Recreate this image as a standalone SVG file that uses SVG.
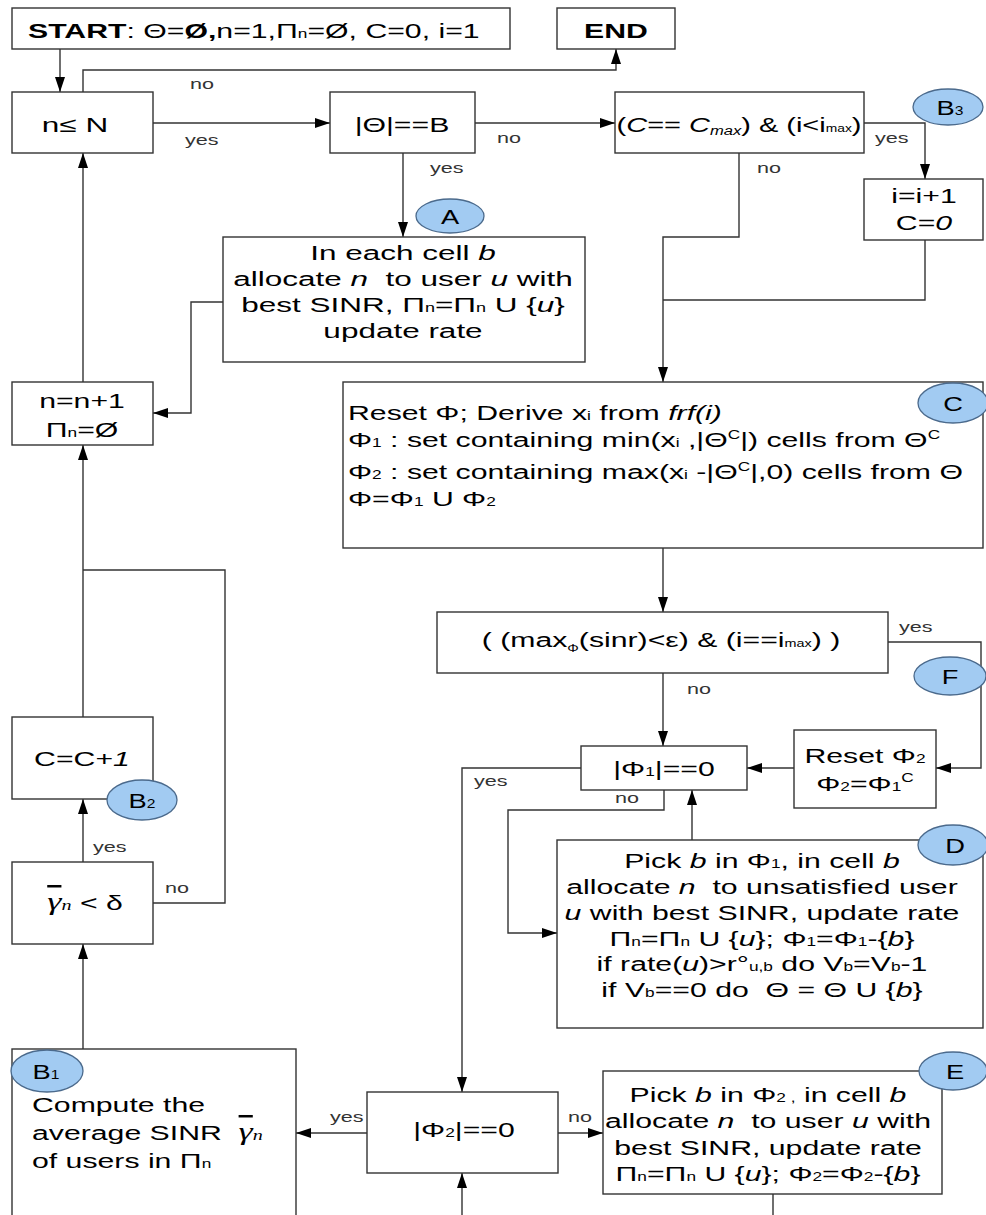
<svg xmlns="http://www.w3.org/2000/svg" width="986" height="1215" viewBox="0 0 986 1215">
<style>
.bx{fill:#fff;stroke:#333;stroke-width:1.4}
.el{fill:#a2cbf2;stroke:#4b6a8c;stroke-width:1.3}
.ln{fill:none;stroke:#333;stroke-width:1.4;marker-end:url(#ah)}
.ln2{fill:none;stroke:#333;stroke-width:1.4}
text{font-family:"Liberation Sans",Arial,Helvetica,sans-serif;fill:#000;font-size:21px}
.c{text-anchor:middle}
.lb{font-size:15px;fill:#333}
.i{font-style:italic}
.b{font-weight:bold}
.s{font-size:12px}
.ss{font-size:10px}
.g{font-family:"Liberation Serif","Times New Roman",serif;font-style:italic;font-size:25px;text-decoration:overline}
.gs{font-family:"Liberation Serif","Times New Roman",serif;font-style:italic;font-size:14px}
</style>
<defs>
<marker id="ah" markerUnits="userSpaceOnUse" markerWidth="16" markerHeight="11" refX="15" refY="5.5" orient="auto" viewBox="0 0 16 11"><path d="M0,0.5 L15,5.5 L0,10.5 z" fill="#000"/></marker>
</defs>
<rect width="986" height="1215" fill="#fff"/>

<g id="connectors">
<path class="ln" d="M60,49 V92"/>
<path class="ln" d="M83,92 V70 H616 V49"/>
<path class="ln" d="M153,123 H330"/>
<path class="ln" d="M475,123 H615"/>
<path class="ln" d="M864,123 H925 V179"/>
<path class="ln" d="M403,153 V237"/>
<path class="ln" d="M739,153 V237 H663 V382"/>
<path class="ln2" d="M925,240 V300 H663"/>
<path class="ln" d="M223,302 H191 V413 H153"/>
<path class="ln" d="M83,382 V153"/>
<path class="ln" d="M83,717 V445"/>
<path class="ln2" d="M153,903 H225 V570 H83"/>
<path class="ln" d="M83,862 V799"/>
<path class="ln" d="M83,1049 V944"/>
<path class="ln" d="M663,548 V612"/>
<path class="ln" d="M663,673 V746"/>
<path class="ln" d="M888,642 H981 V768 H936"/>
<path class="ln" d="M794,768 H747"/>
<path class="ln" d="M581,768 H462 V1092"/>
<path class="ln" d="M664,790 V810 H508 V933 H557"/>
<path class="ln" d="M692,840 V790"/>
<path class="ln" d="M367,1133 H296"/>
<path class="ln" d="M558,1133 H603"/>
<path class="ln" d="M773,1194 V1240 H462 V1173"/>
<text class="lb" transform="translate(190,89) scale(1.44,1)">no</text>
<text class="lb" transform="translate(185,145) scale(1.44,1)">yes</text>
<text class="lb" transform="translate(497,143) scale(1.44,1)">no</text>
<text class="lb" transform="translate(875,143) scale(1.44,1)">yes</text>
<text class="lb" transform="translate(430,173) scale(1.44,1)">yes</text>
<text class="lb" transform="translate(757,173) scale(1.44,1)">no</text>
<text class="lb" transform="translate(899,632) scale(1.44,1)">yes</text>
<text class="lb" transform="translate(687,694) scale(1.44,1)">no</text>
<text class="lb" transform="translate(474,786) scale(1.44,1)">yes</text>
<text class="lb" transform="translate(615,803) scale(1.44,1)">no</text>
<text class="lb" transform="translate(93,852) scale(1.44,1)">yes</text>
<text class="lb" transform="translate(165,893) scale(1.44,1)">no</text>
<text class="lb" transform="translate(330,1122) scale(1.44,1)">yes</text>
<text class="lb" transform="translate(568,1122) scale(1.44,1)">no</text>
</g>

<g id="start">
<rect class="bx" x="12" y="8" width="498" height="41"/>
<text transform="translate(28,38) scale(1.44,1)"><tspan class="b">START</tspan>: Θ=<tspan class="b">Ø,</tspan>n=1,Π<tspan class="s">n</tspan>=Ø, C=0, i=1</text>
</g>
<g id="end">
<rect class="bx" x="557" y="8" width="118" height="41"/>
<text class="c b" transform="translate(616,38) scale(1.44,1)">END</text>
</g>
<g id="n-le-N">
<rect class="bx" x="12" y="92" width="141" height="61"/>
<text class="c" transform="translate(75,132) scale(1.5,1)">n≤ N</text>
</g>
<g id="theta-eq-B">
<rect class="bx" x="330" y="92" width="145" height="61"/>
<text class="c" transform="translate(402,132) scale(1.44,1)">|Θ|==B</text>
</g>
<g id="cmax">
<rect class="bx" x="615" y="92" width="249" height="61"/>
<text class="c" transform="translate(739,132) scale(1.38,1)">(<tspan class="i">C</tspan>== <tspan class="i">C</tspan><tspan class="i s" dy="3">max</tspan><tspan dy="-3">) &amp; (i&lt;i</tspan><tspan class="ss">max</tspan>)</text>
</g>
<g id="inc-i">
<rect class="bx" x="864" y="179" width="119" height="61"/>
<g transform="translate(924,0) scale(1.44,1)">
<text class="c" x="0" y="203">i=i+1</text>
<text class="c" x="0" y="230">C=<tspan class="i">0</tspan></text>
</g>
</g>
<g id="tag-B3">
<ellipse class="el" cx="948" cy="107" rx="35" ry="18"/>
<text class="c" transform="translate(950,115) scale(1.3,1)">B<tspan class="s">3</tspan></text>
</g>

<g id="A">
<rect class="bx" x="223" y="237" width="362" height="125"/>
<g transform="translate(403,0) scale(1.5,1)">
<text class="c" x="0" y="260">In each cell <tspan class="i">b</tspan></text>
<text class="c" x="0" y="286">allocate <tspan class="i">n</tspan>&#160; to user <tspan class="i">u</tspan> with</text>
<text class="c" x="0" y="312">best SINR, Π<tspan class="s">n</tspan>=Π<tspan class="s">n</tspan> U {<tspan class="i">u</tspan>}</text>
<text class="c" x="0" y="338">update rate</text>
</g>
</g>
<g id="tag-A">
<ellipse class="el" cx="450" cy="216" rx="34" ry="17"/>
<text class="c" transform="translate(450,224) scale(1.3,1)">A</text>
</g>

<g id="inc-n">
<rect class="bx" x="12" y="382" width="141" height="63"/>
<g transform="translate(82,0) scale(1.44,1)">
<text class="c" x="0" y="408">n=n+1</text>
<text class="c" x="0" y="437">Π<tspan class="s">n</tspan>=Ø</text>
</g>
</g>

<g id="C">
<rect class="bx" x="343" y="382" width="640" height="166"/>
<g transform="translate(348,0) scale(1.44,1)">
<text x="0" y="420">Reset Φ; Derive x<tspan class="s">i</tspan> from <tspan class="i">frf(i)</tspan></text>
<text x="0" y="447">Φ<tspan class="s">1</tspan> : set containing min(x<tspan class="s">i</tspan> ,|Θ<tspan class="s" dy="-8">C</tspan><tspan dy="8">|) cells from Θ</tspan><tspan class="s" dy="-8">C</tspan></text>
<text x="0" y="479">Φ<tspan class="s">2</tspan> : set containing max(x<tspan class="s">i</tspan> -|Θ<tspan class="s" dy="-8">C</tspan><tspan dy="8">|,0) cells from Θ</tspan></text>
<text x="0" y="506">Φ=Φ<tspan class="s">1</tspan> U Φ<tspan class="s">2</tspan></text>
</g>
</g>
<g id="tag-C">
<ellipse class="el" cx="953" cy="403" rx="35" ry="20"/>
<text class="c" transform="translate(953,411) scale(1.3,1)">C</text>
</g>

<g id="cond">
<rect class="bx" x="437" y="612" width="451" height="61"/>
<text class="c" transform="translate(661,647) scale(1.44,1)">( (max<tspan class="ss" dy="5">Φ</tspan><tspan dy="-5">(sinr)&lt;ε) &amp; (i==i</tspan><tspan class="ss">max</tspan>) )</text>
</g>
<g id="tag-F">
<ellipse class="el" cx="950" cy="676" rx="36" ry="19"/>
<text class="c" transform="translate(950,684) scale(1.3,1)">F</text>
</g>

<g id="phi1-empty">
<rect class="bx" x="581" y="746" width="166" height="44"/>
<text class="c" transform="translate(664,776) scale(1.44,1)">|Φ<tspan class="s">1</tspan>|==0</text>
</g>
<g id="reset-phi2">
<rect class="bx" x="794" y="730" width="142" height="78"/>
<g transform="translate(865,0) scale(1.44,1)">
<text class="c" x="0" y="763">Reset Φ<tspan class="s">2</tspan></text>
<text class="c" x="0" y="791">Φ<tspan class="s">2</tspan>=Φ<tspan class="s">1</tspan><tspan class="s" dy="-9">C</tspan></text>
</g>
</g>

<g id="D">
<rect class="bx" x="557" y="840" width="426" height="188"/>
<g transform="translate(762,0) scale(1.44,1)">
<text class="c" x="0" y="868">Pick <tspan class="i">b</tspan> in Φ<tspan class="s">1</tspan>, in cell <tspan class="i">b</tspan></text>
<text class="c" x="0" y="894">allocate <tspan class="i">n</tspan>&#160; to unsatisfied user</text>
<text class="c" x="0" y="920"><tspan class="i">u</tspan> with best SINR, update rate</text>
<text class="c" x="0" y="946">Π<tspan class="s">n</tspan>=Π<tspan class="s">n</tspan> U {<tspan class="i">u</tspan>}; Φ<tspan class="s">1</tspan>=Φ<tspan class="s">1</tspan>-{<tspan class="i">b</tspan>}</text>
<text class="c" x="0" y="971">if rate(<tspan class="i">u</tspan>)&gt;r°<tspan class="s">u,b</tspan> do V<tspan class="s">b</tspan>=V<tspan class="s">b</tspan>-1</text>
<text class="c" x="0" y="997">if V<tspan class="s">b</tspan>==0 do&#160; Θ = Θ U {<tspan class="i">b</tspan>}</text>
</g>
</g>
<g id="tag-D">
<ellipse class="el" cx="953" cy="845" rx="35" ry="20"/>
<text class="c" transform="translate(955,853) scale(1.3,1)">D</text>
</g>

<g id="inc-C">
<rect class="bx" x="12" y="717" width="141" height="82"/>
<text class="c" transform="translate(82,766) scale(1.44,1)">C=C+<tspan class="i">1</tspan></text>
</g>
<g id="tag-B2">
<ellipse class="el" cx="142" cy="800" rx="35" ry="20"/>
<text class="c" transform="translate(142,808) scale(1.3,1)">B<tspan class="s">2</tspan></text>
</g>

<g id="gamma-lt-delta">
<rect class="bx" x="12" y="862" width="141" height="82"/>
<text class="c" transform="translate(85,910) scale(1.44,1)"><tspan class="g">γ</tspan><tspan class="gs">n</tspan> &lt; δ</text>
</g>

<g id="B1">
<rect class="bx" x="12" y="1049" width="284" height="190"/>
<g transform="translate(32,0) scale(1.44,1)">
<text x="0" y="1112">Compute the</text>
<text x="0" y="1140">average SINR&#160; <tspan class="g">γ</tspan><tspan class="gs">n</tspan></text>
<text x="0" y="1168">of users in Π<tspan class="s">n</tspan></text>
</g>
</g>
<g id="tag-B1">
<ellipse class="el" cx="47" cy="1071" rx="36" ry="21"/>
<text class="c" transform="translate(46,1079) scale(1.3,1)">B<tspan class="s">1</tspan></text>
</g>

<g id="phi2-empty">
<rect class="bx" x="367" y="1092" width="191" height="81"/>
<text class="c" transform="translate(464,1137) scale(1.44,1)">|Φ<tspan class="s">2</tspan>|==0</text>
</g>

<g id="E">
<rect class="bx" x="603" y="1071" width="339" height="123"/>
<g transform="translate(768,0) scale(1.44,1)">
<text class="c" x="0" y="1102">Pick <tspan class="i">b</tspan> in Φ<tspan class="s">2 ,</tspan> in cell <tspan class="i">b</tspan></text>
<text class="c" x="0" y="1128">allocate <tspan class="i">n</tspan>&#160; to user <tspan class="i">u</tspan> with</text>
<text class="c" x="0" y="1155">best SINR, update rate</text>
<text class="c" x="0" y="1181">Π<tspan class="s">n</tspan>=Π<tspan class="s">n</tspan> U {<tspan class="i">u</tspan>}; Φ<tspan class="s">2</tspan>=Φ<tspan class="s">2</tspan>-{<tspan class="i">b</tspan>}</text>
</g>
</g>
<g id="tag-E">
<ellipse class="el" cx="953" cy="1071" rx="34" ry="19"/>
<text class="c" transform="translate(955,1079) scale(1.3,1)">E</text>
</g>
</svg>
